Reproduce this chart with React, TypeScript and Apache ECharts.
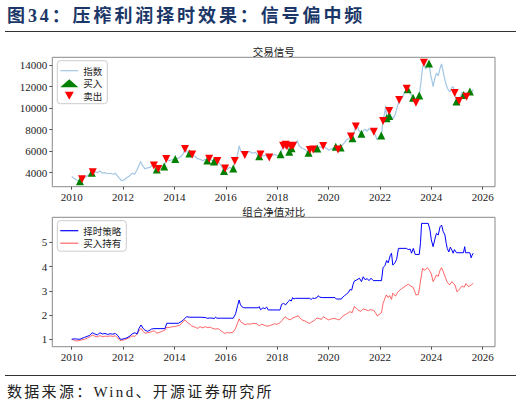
import React, { useEffect, useRef } from "react";
import * as echarts from "echarts";

// ---------- data (year as decimal, value) ----------
const indexLine: [number, number][] = [
  [2010.0, 3650], [2010.08, 3500], [2010.17, 3350], [2010.25, 3260], [2010.32, 3200], [2010.4, 3400],
  [2010.5, 3550], [2010.6, 3700], [2010.7, 3850], [2010.8, 4050], [2010.9, 4100], [2011.0, 4000],
  [2011.1, 4150], [2011.2, 3950], [2011.3, 4000], [2011.4, 3900], [2011.5, 3950], [2011.6, 3850],
  [2011.7, 3950], [2011.75, 3800], [2011.85, 3500], [2011.95, 3250], [2012.05, 3350], [2012.15, 3550],
  [2012.25, 3700], [2012.35, 3950], [2012.45, 3850], [2012.55, 4300], [2012.62, 4700], [2012.68, 5050],
  [2012.75, 4700], [2012.85, 4350], [2012.95, 4450], [2013.05, 4500], [2013.12, 4650], [2013.2, 4680],
  [2013.28, 4350], [2013.37, 4350], [2013.45, 4600], [2013.55, 4500], [2013.6, 4570], [2013.68, 5270],
  [2013.8, 5100], [2013.9, 5200], [2014.03, 5270], [2014.15, 5350], [2014.25, 5500], [2014.35, 5800],
  [2014.41, 6200], [2014.5, 5900], [2014.58, 5780], [2014.69, 5700], [2014.8, 5500], [2014.9, 5300],
  [2015.0, 5240], [2015.1, 5100], [2015.2, 5250], [2015.28, 5140], [2015.35, 5300], [2015.45, 5150],
  [2015.54, 5050], [2015.6, 5000], [2015.67, 5080], [2015.75, 4900], [2015.85, 4500], [2015.93, 4150],
  [2015.97, 4400], [2016.05, 4300], [2016.15, 4500], [2016.25, 4350], [2016.3, 4400], [2016.35, 5080],
  [2016.45, 5600], [2016.52, 6500], [2016.58, 6000], [2016.66, 5800], [2016.74, 5650], [2016.85, 5900],
  [2016.94, 5950], [2017.05, 5800], [2017.15, 5900], [2017.25, 5600], [2017.3, 5520], [2017.35, 5700],
  [2017.45, 5550], [2017.55, 5650], [2017.62, 5400], [2017.69, 5400], [2017.8, 5600], [2017.9, 5700],
  [2018.0, 5600], [2018.13, 5710], [2018.23, 6500], [2018.3, 6300], [2018.38, 6600], [2018.47, 5950],
  [2018.53, 6400], [2018.56, 6300], [2018.62, 6450], [2018.7, 6600], [2018.78, 7000], [2018.85, 6500],
  [2018.95, 6300], [2019.05, 6200], [2019.15, 6000], [2019.22, 5850], [2019.27, 6100], [2019.35, 6050],
  [2019.4, 6160], [2019.5, 6150], [2019.56, 6250], [2019.65, 6400], [2019.72, 6350], [2019.79, 6480],
  [2019.9, 6300], [2020.0, 6100], [2020.1, 6200], [2020.2, 6300], [2020.28, 6400], [2020.37, 6160],
  [2020.47, 6350], [2020.55, 6600], [2020.62, 6800], [2020.7, 7050], [2020.8, 7200], [2020.87, 7350],
  [2020.93, 7200], [2021.0, 7800], [2021.06, 8300], [2021.1, 8500], [2021.18, 7900], [2021.28, 7620],
  [2021.35, 7900], [2021.42, 8050], [2021.5, 7850], [2021.58, 8100], [2021.66, 7900], [2021.76, 7800],
  [2021.82, 7500], [2021.89, 7050], [2021.95, 7300], [2022.05, 7460], [2022.12, 8800], [2022.18, 9500],
  [2022.23, 10200], [2022.26, 9050], [2022.32, 9400], [2022.36, 9700], [2022.42, 9300], [2022.5, 9000],
  [2022.58, 9300], [2022.65, 9900], [2022.75, 10750], [2022.85, 10900], [2022.95, 11400], [2023.04, 11800],
  [2023.1, 11700], [2023.2, 11300], [2023.29, 10950], [2023.35, 10700], [2023.4, 10500], [2023.47, 10900],
  [2023.53, 11170], [2023.6, 12500], [2023.66, 13800], [2023.71, 14200], [2023.78, 13600], [2023.85, 14000],
  [2023.91, 14150], [2023.97, 13100], [2024.03, 12500], [2024.07, 12000], [2024.13, 12700], [2024.2, 13250],
  [2024.27, 13000], [2024.34, 13700], [2024.4, 14100], [2024.46, 13400], [2024.53, 12600], [2024.6, 12000],
  [2024.66, 11700], [2024.72, 11500], [2024.79, 11900], [2024.85, 12000], [2024.91, 11400], [2024.98, 10600],
  [2025.04, 10700], [2025.08, 10650], [2025.14, 11100], [2025.2, 11500], [2025.26, 11220], [2025.32, 11300],
  [2025.37, 11050], [2025.43, 11300], [2025.5, 11530], [2025.56, 11400], [2025.63, 11750],
];

const buySignals: [number, number][] = [
  [2010.32, 3200], [2010.78, 4000], [2013.31, 4300], [2013.6, 4570], [2014.03, 5270], [2014.58, 5780],
  [2015.28, 5140], [2015.54, 5050], [2015.93, 4150], [2016.29, 4380], [2017.3, 5520], [2018.13, 5710],
  [2018.47, 5950], [2018.56, 6260], [2019.22, 5850], [2019.56, 6250], [2020.28, 6400], [2020.47, 6350],
  [2020.93, 7200], [2021.28, 7620], [2022.05, 7460], [2022.26, 9050], [2022.36, 9270], [2023.08, 11750],
  [2023.29, 10950], [2023.53, 11170], [2023.91, 14150], [2024.98, 10600], [2025.26, 11220], [2025.5, 11530],
];

const sellSignals: [number, number][] = [
  [2010.4, 3400], [2010.82, 4050], [2013.2, 4680], [2013.37, 4350], [2013.68, 5270], [2014.41, 6200],
  [2014.69, 5700], [2015.35, 5300], [2015.67, 5080], [2015.97, 4400], [2016.35, 5080], [2016.74, 5650],
  [2017.35, 5700], [2017.69, 5400], [2018.23, 6500], [2018.33, 6600], [2018.38, 6450], [2018.53, 6450],
  [2018.62, 6500], [2019.27, 6100], [2019.4, 6160], [2019.79, 6480], [2020.37, 6160], [2020.87, 7350],
  [2021.06, 8300], [2021.76, 7800], [2022.12, 8800], [2022.36, 9740], [2022.75, 10750], [2023.04, 11800],
  [2023.4, 10500], [2023.71, 14200], [2024.91, 11400], [2025.08, 10650], [2025.37, 11050],
];

const timingNav: [number, number][] = [
  [2010.0, 1.0], [2010.1, 1.02], [2010.2, 1.01], [2010.32, 1.0], [2010.4, 1.04], [2010.5, 1.08],
  [2010.6, 1.12], [2010.7, 1.16], [2010.8, 1.27], [2010.9, 1.22], [2011.0, 1.18], [2011.1, 1.27],
  [2011.2, 1.22], [2011.3, 1.24], [2011.4, 1.2], [2011.5, 1.23], [2011.6, 1.21], [2011.7, 1.24],
  [2011.8, 1.15], [2011.88, 1.01], [2011.95, 1.0], [2012.05, 1.03], [2012.15, 1.06], [2012.27, 1.14],
  [2012.35, 1.22], [2012.46, 1.27], [2012.55, 1.22], [2012.62, 1.45], [2012.7, 1.59], [2012.78, 1.45],
  [2012.85, 1.38], [2012.95, 1.33], [2013.05, 1.38], [2013.1, 1.42], [2013.2, 1.44], [2013.63, 1.44],
  [2013.7, 1.66], [2014.15, 1.66], [2014.25, 1.72], [2014.35, 1.8], [2014.47, 1.93], [2014.6, 1.91],
  [2015.0, 1.91], [2015.2, 1.9], [2015.3, 1.86], [2015.35, 1.88], [2015.5, 1.87], [2015.55, 1.85],
  [2015.6, 1.92], [2015.65, 1.87], [2015.8, 1.87], [2016.29, 1.87], [2016.38, 2.05], [2016.46, 2.4],
  [2016.52, 2.62], [2016.56, 2.45], [2016.62, 2.35], [2016.7, 2.3], [2017.26, 2.3], [2017.3, 2.35],
  [2017.35, 2.22], [2017.45, 2.3], [2017.52, 2.26], [2017.59, 2.33], [2017.65, 2.21], [2018.11, 2.21],
  [2018.17, 2.44], [2018.25, 2.48], [2018.33, 2.42], [2018.42, 2.55], [2018.49, 2.62], [2018.55, 2.58],
  [2018.6, 2.72], [2018.65, 2.66], [2018.7, 2.69], [2019.27, 2.69], [2019.32, 2.64], [2019.38, 2.7],
  [2019.45, 2.68], [2019.55, 2.72], [2019.6, 2.8], [2019.65, 2.74], [2019.75, 2.72], [2020.25, 2.72],
  [2020.3, 2.66], [2020.5, 2.66], [2020.55, 2.74], [2020.62, 2.8], [2020.7, 2.86], [2020.78, 2.95],
  [2020.83, 3.05], [2020.9, 3.03], [2020.95, 3.25], [2021.0, 3.4], [2021.1, 3.45], [2021.2, 3.52],
  [2021.28, 3.38], [2021.35, 3.58], [2021.42, 3.46], [2021.5, 3.5], [2021.58, 3.42], [2021.65, 3.52],
  [2021.74, 3.42], [2022.06, 3.42], [2022.12, 3.95], [2022.2, 4.05], [2022.26, 4.25], [2022.32, 4.15],
  [2022.4, 4.45], [2022.45, 4.55], [2022.5, 4.06], [2022.58, 4.15], [2022.65, 4.3], [2022.72, 4.75],
  [2023.03, 4.75], [2023.1, 4.7], [2023.18, 4.72], [2023.23, 4.55], [2023.3, 4.75], [2023.37, 4.5],
  [2023.53, 4.5], [2023.58, 5.0], [2023.62, 5.78], [2023.88, 5.78], [2023.95, 5.5], [2024.0, 5.1],
  [2024.07, 4.82], [2024.13, 5.1], [2024.2, 5.37], [2024.27, 5.3], [2024.34, 5.64], [2024.4, 5.71],
  [2024.46, 5.45], [2024.53, 5.3], [2024.58, 4.95], [2024.62, 4.75], [2024.68, 4.6], [2024.74, 4.8],
  [2024.8, 4.68], [2024.85, 4.55], [2024.9, 4.7], [2024.98, 4.57], [2025.25, 4.57], [2025.3, 4.82],
  [2025.33, 4.57], [2025.5, 4.57], [2025.55, 4.36], [2025.58, 4.45], [2025.63, 4.55],
];

const holdNav: [number, number][] = [
  [2010.0, 1.0], [2010.1, 0.96], [2010.2, 0.93], [2010.3, 0.95], [2010.4, 0.98], [2010.5, 1.0],
  [2010.6, 1.05], [2010.7, 1.1], [2010.8, 1.17], [2010.9, 1.13], [2011.0, 1.1], [2011.1, 1.15],
  [2011.2, 1.11], [2011.3, 1.13], [2011.4, 1.12], [2011.5, 1.14], [2011.6, 1.12], [2011.7, 1.14],
  [2011.8, 1.05], [2011.88, 0.95], [2011.95, 0.96], [2012.05, 0.98], [2012.15, 1.02], [2012.27, 1.08],
  [2012.35, 1.14], [2012.46, 1.12], [2012.55, 1.22], [2012.62, 1.35], [2012.7, 1.45], [2012.78, 1.33],
  [2012.85, 1.25], [2012.95, 1.27], [2013.05, 1.29], [2013.15, 1.33], [2013.22, 1.35], [2013.3, 1.25],
  [2013.4, 1.28], [2013.5, 1.32], [2013.63, 1.38], [2013.7, 1.5], [2013.8, 1.48], [2013.9, 1.52],
  [2014.0, 1.52], [2014.1, 1.55], [2014.2, 1.58], [2014.3, 1.68], [2014.41, 1.8], [2014.5, 1.7],
  [2014.6, 1.62], [2014.67, 1.55], [2014.8, 1.5], [2014.9, 1.45], [2015.0, 1.52], [2015.1, 1.47],
  [2015.2, 1.52], [2015.3, 1.48], [2015.4, 1.5], [2015.5, 1.44], [2015.6, 1.42], [2015.7, 1.44],
  [2015.8, 1.36], [2015.9, 1.28], [2015.97, 1.24], [2016.05, 1.28], [2016.15, 1.26], [2016.29, 1.3],
  [2016.38, 1.45], [2016.45, 1.65], [2016.52, 1.84], [2016.58, 1.72], [2016.66, 1.66], [2016.75, 1.6],
  [2016.85, 1.64], [2016.94, 1.62], [2017.05, 1.66], [2017.2, 1.64], [2017.3, 1.56], [2017.4, 1.62],
  [2017.5, 1.58], [2017.6, 1.54], [2017.7, 1.56], [2017.8, 1.6], [2017.9, 1.64], [2018.0, 1.62],
  [2018.1, 1.68], [2018.2, 1.78], [2018.3, 1.93], [2018.4, 1.85], [2018.5, 1.8], [2018.6, 1.88],
  [2018.7, 1.92], [2018.82, 1.97], [2018.9, 1.86], [2019.0, 1.78], [2019.1, 1.75], [2019.2, 1.68],
  [2019.27, 1.66], [2019.35, 1.72], [2019.45, 1.78], [2019.55, 1.88], [2019.65, 1.85], [2019.72, 1.82],
  [2019.8, 1.93], [2019.9, 1.86], [2020.0, 1.8], [2020.1, 1.84], [2020.2, 1.86], [2020.3, 1.84],
  [2020.4, 1.8], [2020.5, 1.88], [2020.57, 1.97], [2020.65, 2.02], [2020.75, 2.08], [2020.83, 2.14],
  [2020.92, 2.1], [2021.0, 2.35], [2021.08, 2.28], [2021.15, 2.2], [2021.25, 2.15], [2021.35, 2.25],
  [2021.45, 2.22], [2021.55, 2.18], [2021.62, 2.22], [2021.75, 2.2], [2021.82, 2.1], [2021.9, 1.96],
  [2022.0, 2.05], [2022.06, 2.1], [2022.12, 2.48], [2022.2, 2.7], [2022.25, 2.83], [2022.32, 2.72],
  [2022.38, 2.8], [2022.45, 2.65], [2022.5, 2.9], [2022.6, 2.78], [2022.7, 2.95], [2022.8, 3.05],
  [2022.9, 3.13], [2023.0, 3.2], [2023.1, 3.27], [2023.2, 3.2], [2023.3, 3.13], [2023.4, 2.83],
  [2023.5, 2.85], [2023.58, 3.4], [2023.66, 3.93], [2023.72, 3.85], [2023.8, 3.9], [2023.85, 3.95],
  [2023.92, 3.85], [2024.0, 3.7], [2024.07, 3.38], [2024.13, 3.5], [2024.2, 3.65], [2024.27, 3.6],
  [2024.34, 3.85], [2024.4, 3.95], [2024.46, 3.8], [2024.53, 3.6], [2024.6, 3.4], [2024.65, 3.31],
  [2024.72, 3.25], [2024.8, 3.38], [2024.86, 3.3], [2024.92, 3.24], [2025.0, 2.96], [2025.08, 3.05],
  [2025.2, 3.2], [2025.28, 3.15], [2025.35, 3.3], [2025.45, 3.17], [2025.55, 3.24], [2025.63, 3.31],
];

const yearTicks = { min: 2010, max: 2026, step: 2 };
const indexTicks = { min: 4000, max: 14000, step: 2000 };
const navTicks = { min: 1, max: 5, step: 1 };

const NUM_FONT = "Liberation Serif, Times New Roman, serif";
const CJK_FONT = "Noto Sans CJK SC";

export default function App() {
  const ref = useRef<HTMLDivElement>(null);

  useEffect(() => {
    if (!ref.current) return;
    const chart = echarts.init(ref.current, undefined, { renderer: "svg" });

    const axisLabel = {
      show: true,
      fontFamily: NUM_FONT,
      fontSize: 11,
      color: "#222",
      formatter: (v: number) => String(v),
    };
    const axisTick = { show: true, inside: false, length: 3, lineStyle: { color: "#555", width: 1 } };

    const dataX = (grid: number, offset: number) => ({
      type: "value",
      gridIndex: grid,
      min: yearTicks.min,
      max: yearTicks.max,
      interval: yearTicks.step,
      offset,
      axisLine: { show: false, onZero: false },
      axisTick,
      axisLabel: { ...axisLabel, margin: 5 },
      splitLine: { show: false },
    });
    const dataY = (grid: number, t: { min: number; max: number; step: number }) => ({
      type: "value",
      gridIndex: grid,
      min: t.min,
      max: t.max,
      interval: t.step,
      offset: 19.4,
      axisLine: { show: false, onZero: false },
      axisTick,
      axisLabel: { ...axisLabel, margin: 5 },
      splitLine: { show: false },
    });
    const hidden = (grid: number) => ({ type: "value", gridIndex: grid, show: false, min: 0, max: 1 });

    const legendCommon = {
      orient: "vertical",
      left: 57.3,
      itemWidth: 18,
      itemHeight: 8,
      itemGap: 2.5,
      padding: [5, 5, 3, 3],
      borderColor: "#cccccc",
      borderWidth: 1,
      borderRadius: 3,
      backgroundColor: "rgba(255,255,255,0.85)",
      textStyle: { fontFamily: CJK_FONT, fontSize: 9.5, lineHeight: 10, color: "#222" },
      selectedMode: false,
    };

    const downTri = "path://M0,0L10,0L5,9Z";
    const lineIcon = "path://M0,0L24,0L24,1.6L0,1.6Z";

    chart.setOption({
      animation: false,
      backgroundColor: "transparent",
      grid: [
        { left: 71.7, right: 39.3, top: 65, bottom: 232.3, show: false },
        { left: 52.3, right: 27, top: 57.3, bottom: 218.3, show: true, borderColor: "#8a8a8a", borderWidth: 1, backgroundColor: "transparent" },
        { left: 71.7, right: 39.3, top: 242.3, bottom: 65.7, show: false },
        { left: 52.3, right: 27, top: 217.3, bottom: 58.3, show: true, borderColor: "#8a8a8a", borderWidth: 1, backgroundColor: "transparent" },
      ],
      xAxis: [dataX(0, 14), hidden(1), dataX(2, 7.4), hidden(3)],
      yAxis: [dataY(0, indexTicks), hidden(1), dataY(2, navTicks), hidden(3)],
      legend: [
        {
          ...legendCommon,
          top: 60.7,
          data: [
            { name: "指数", icon: lineIcon },
            { name: "买入", icon: "triangle" },
            { name: "卖出", icon: downTri },
          ],
        },
        {
          ...legendCommon,
          top: 220.7,
          data: [
            { name: "择时策略", icon: lineIcon },
            { name: "买入持有", icon: lineIcon },
          ],
        },
      ],
      graphic: [
        {
          type: "text",
          x: 273.7,
          y: 51.5,
          style: {
            text: "交易信号",
            font: `10.5px ${CJK_FONT}`,
            fill: "#222",
            textAlign: "center",
            textVerticalAlign: "middle",
          },
        },
        {
          type: "text",
          x: 273.7,
          y: 211.5,
          style: {
            text: "组合净值对比",
            font: `10.5px ${CJK_FONT}`,
            fill: "#222",
            textAlign: "center",
            textVerticalAlign: "middle",
          },
        },
      ],
      series: [
        {
          name: "指数",
          type: "line",
          xAxisIndex: 0,
          yAxisIndex: 0,
          data: indexLine,
          symbol: "none",
          clip: false,
          lineStyle: { color: "#a3c6e3", width: 1.2 },
          itemStyle: { color: "#a3c6e3" },
          z: 2,
        },
        {
          name: "买入",
          type: "scatter",
          xAxisIndex: 0,
          yAxisIndex: 0,
          data: buySignals,
          symbol: "triangle",
          symbolSize: 8,
          clip: false,
          itemStyle: { color: "#008000", opacity: 1 },
          z: 3,
        },
        {
          name: "卖出",
          type: "scatter",
          xAxisIndex: 0,
          yAxisIndex: 0,
          data: sellSignals,
          symbol: downTri,
          symbolSize: 8,
          clip: false,
          itemStyle: { color: "#ff0000", opacity: 1 },
          z: 4,
        },
        {
          name: "择时策略",
          type: "line",
          xAxisIndex: 2,
          yAxisIndex: 2,
          data: timingNav,
          symbol: "none",
          clip: false,
          lineStyle: { color: "#0000ff", width: 1 },
          itemStyle: { color: "#0000ff" },
          z: 3,
        },
        {
          name: "买入持有",
          type: "line",
          xAxisIndex: 2,
          yAxisIndex: 2,
          data: holdNav,
          symbol: "none",
          clip: false,
          lineStyle: { color: "rgba(255,0,0,0.6)", width: 1 },
          itemStyle: { color: "rgba(255,0,0,0.6)" },
          z: 2,
        },
      ],
    });

    return () => chart.dispose();
  }, []);

  return (
    <div style={{ position: "absolute", left: 0, top: 0, width: 522, height: 405, background: "#fff", overflow: "hidden" }}>
      <div ref={ref} style={{ position: "absolute", left: 0, top: 0, width: 522, height: 405 }} />
      <div
        style={{
          position: "absolute",
          left: 7,
          top: 6,
          fontFamily: '"Liberation Serif", "Noto Sans CJK SC", serif',
          fontWeight: "bold",
          fontSize: 18,
          lineHeight: "20px",
          letterSpacing: "2.9px",
          color: "#1b3768",
          whiteSpace: "nowrap",
        }}
      >
        图34：压榨利润择时效果：信号偏中频
      </div>
      <div style={{ position: "absolute", left: 5, top: 30.5, width: 511, height: 1, background: "#333" }} />
      <div style={{ position: "absolute", left: 5, top: 374.5, width: 511, height: 1, background: "#333" }} />
      <div
        style={{
          position: "absolute",
          left: 7,
          top: 384,
          fontFamily: '"Liberation Serif", "Noto Sans CJK SC", serif',
          fontSize: 15,
          lineHeight: "17px",
          letterSpacing: "2.3px",
          color: "#222",
          whiteSpace: "nowrap",
        }}
      >
        数据来源：Wind、开源证券研究所
      </div>
    </div>
  );
}
